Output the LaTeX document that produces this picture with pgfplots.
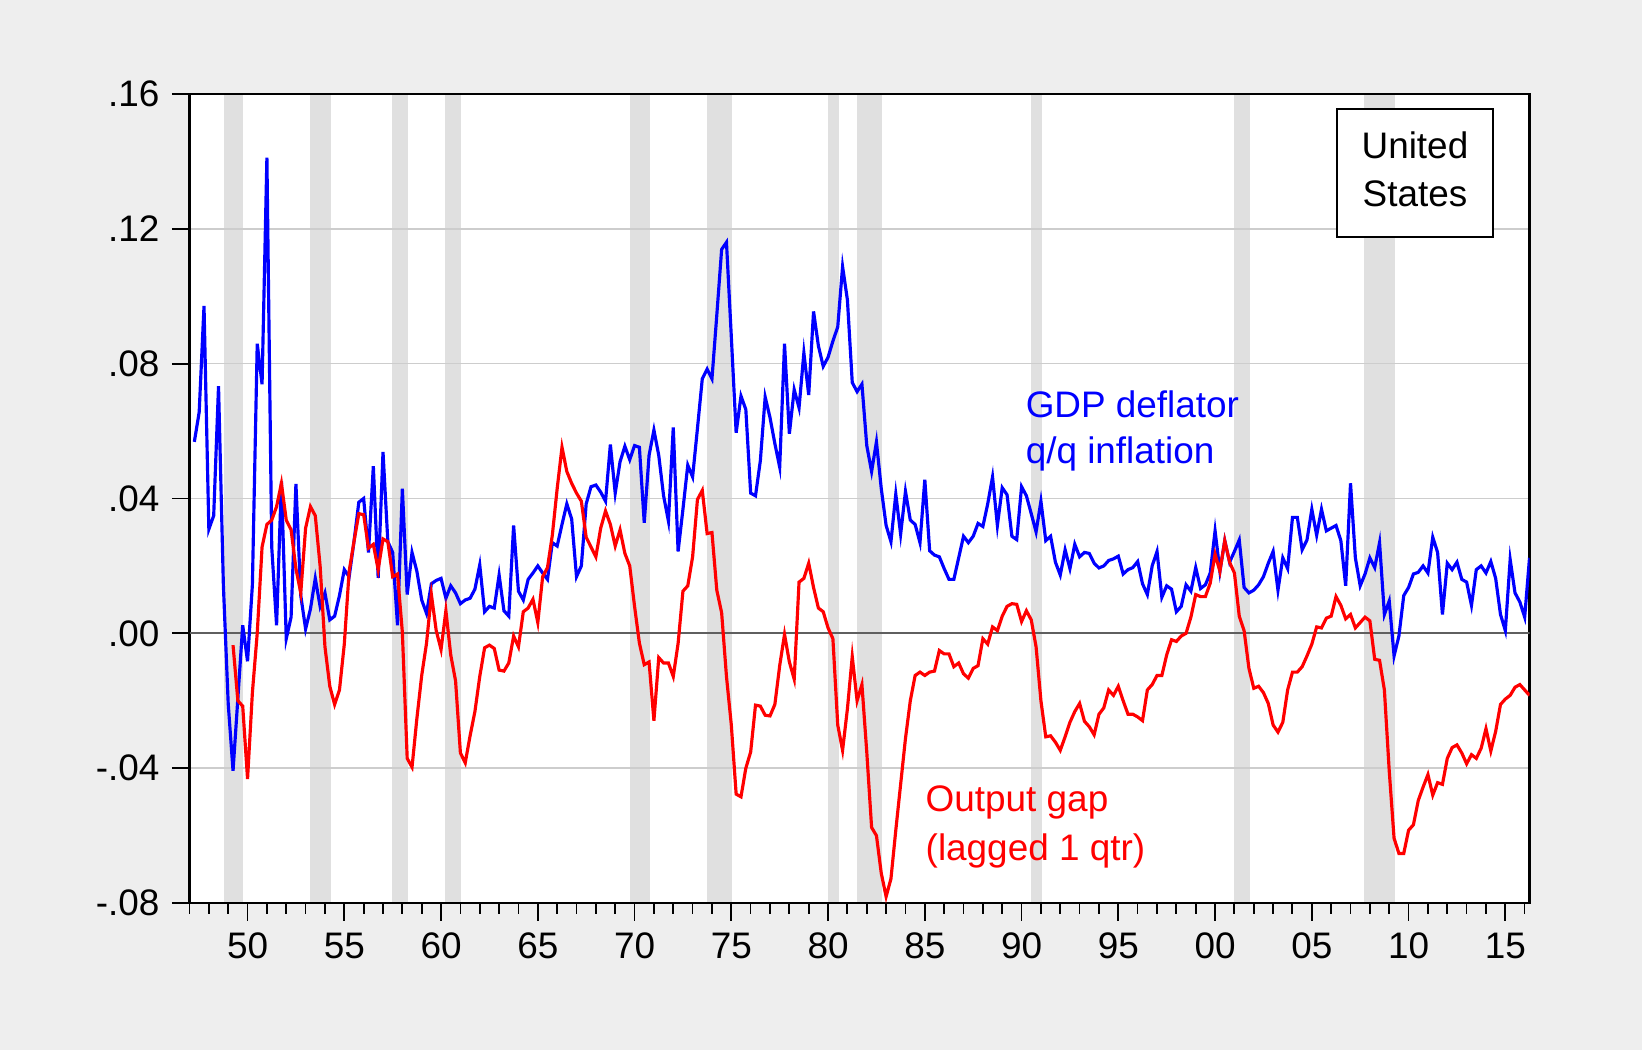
\documentclass[border=0pt]{standalone}
\usepackage{pgfplots}
\usepackage{pgfplotstable}
\usepackage{fontspec}
\setmainfont{Liberation Sans}
\pgfplotsset{compat=1.18}

\definecolor{bggray}{RGB}{238,238,238}
\definecolor{recgray}{RGB}{224,224,224}
\definecolor{gridgray}{RGB}{205,205,205}
\definecolor{zerogray}{RGB}{95,95,95}
\pagecolor{bggray}

% GDP deflator, q/q inflation
\pgfplotstableread{
year infl
1947.25 0.0568
1947.50 0.0656
1947.75 0.0971
1948.00 0.0309
1948.25 0.0349
1948.50 0.0733
1948.75 0.0144
1949.00 -0.0208
1949.25 -0.0408
1949.50 -0.0192
1949.75 0.0024
1950.00 -0.0083
1950.25 0.0144
1950.50 0.0859
1950.75 0.0739
1951.00 0.1411
1951.25 0.0256
1951.50 0.0024
1951.75 0.0451
1952.00 -0.0016
1952.25 0.0048
1952.50 0.0443
1952.75 0.0112
1953.00 0.0013
1953.25 0.0072
1953.50 0.0163
1953.75 0.0080
1954.00 0.0120
1954.25 0.0040
1954.50 0.0051
1954.75 0.0112
1955.00 0.0189
1955.25 0.0168
1955.50 0.0272
1955.75 0.0389
1956.00 0.0400
1956.25 0.0240
1956.50 0.0496
1956.75 0.0165
1957.00 0.0538
1957.25 0.0272
1957.50 0.0240
1957.75 0.0024
1958.00 0.0429
1958.25 0.0115
1958.50 0.0240
1958.75 0.0184
1959.00 0.0099
1959.25 0.0059
1959.50 0.0147
1959.75 0.0157
1960.00 0.0163
1960.25 0.0104
1960.50 0.0141
1960.75 0.0120
1961.00 0.0088
1961.25 0.0099
1961.50 0.0104
1961.75 0.0131
1962.00 0.0203
1962.25 0.0064
1962.50 0.0080
1962.75 0.0075
1963.00 0.0173
1963.25 0.0067
1963.50 0.0051
1963.75 0.0320
1964.00 0.0125
1964.25 0.0099
1964.50 0.0160
1964.75 0.0179
1965.00 0.0200
1965.25 0.0179
1965.50 0.0160
1965.75 0.0269
1966.00 0.0259
1966.25 0.0323
1966.50 0.0384
1966.75 0.0339
1967.00 0.0168
1967.25 0.0200
1967.50 0.0384
1967.75 0.0435
1968.00 0.0440
1968.25 0.0419
1968.50 0.0392
1968.75 0.0560
1969.00 0.0416
1969.25 0.0509
1969.50 0.0555
1969.75 0.0515
1970.00 0.0557
1970.25 0.0552
1970.50 0.0328
1970.75 0.0528
1971.00 0.0603
1971.25 0.0528
1971.50 0.0408
1971.75 0.0333
1972.00 0.0611
1972.25 0.0243
1972.50 0.0368
1972.75 0.0499
1973.00 0.0464
1973.25 0.0608
1973.50 0.0755
1973.75 0.0784
1974.00 0.0755
1974.25 0.0944
1974.50 0.1139
1974.75 0.1160
1975.00 0.0880
1975.25 0.0595
1975.50 0.0704
1975.75 0.0664
1976.00 0.0416
1976.25 0.0408
1976.50 0.0512
1976.75 0.0701
1977.00 0.0640
1977.25 0.0563
1977.50 0.0493
1977.75 0.0859
1978.00 0.0592
1978.25 0.0723
1978.50 0.0669
1978.75 0.0832
1979.00 0.0707
1979.25 0.0955
1979.50 0.0853
1979.75 0.0792
1980.00 0.0819
1980.25 0.0867
1980.50 0.0909
1980.75 0.1088
1981.00 0.0989
1981.25 0.0744
1981.50 0.0717
1981.75 0.0739
1982.00 0.0557
1982.25 0.0480
1982.50 0.0568
1982.75 0.0429
1983.00 0.0320
1983.25 0.0272
1983.50 0.0413
1983.75 0.0294
1984.00 0.0421
1984.25 0.0336
1984.50 0.0323
1984.75 0.0269
1985.00 0.0456
1985.25 0.0245
1985.50 0.0232
1985.75 0.0227
1986.00 0.0192
1986.25 0.0160
1986.50 0.0160
1986.75 0.0224
1987.00 0.0288
1987.25 0.0269
1987.50 0.0288
1987.75 0.0326
1988.00 0.0317
1988.25 0.0384
1988.50 0.0464
1988.75 0.0320
1989.00 0.0432
1989.25 0.0411
1989.50 0.0288
1989.75 0.0278
1990.00 0.0435
1990.25 0.0408
1990.50 0.0355
1990.75 0.0301
1991.00 0.0392
1991.25 0.0275
1991.50 0.0288
1991.75 0.0211
1992.00 0.0173
1992.25 0.0248
1992.50 0.0192
1992.75 0.0264
1993.00 0.0227
1993.25 0.0240
1993.50 0.0237
1993.75 0.0208
1994.00 0.0194
1994.25 0.0200
1994.50 0.0216
1994.75 0.0221
1995.00 0.0229
1995.25 0.0176
1995.50 0.0189
1995.75 0.0195
1996.00 0.0213
1996.25 0.0147
1996.50 0.0115
1996.75 0.0200
1997.00 0.0243
1997.25 0.0107
1997.50 0.0141
1997.75 0.0131
1998.00 0.0064
1998.25 0.0080
1998.50 0.0144
1998.75 0.0125
1999.00 0.0195
1999.25 0.0133
1999.50 0.0144
1999.75 0.0179
2000.00 0.0304
2000.25 0.0184
2000.50 0.0275
2000.75 0.0211
2001.00 0.0243
2001.25 0.0277
2001.50 0.0136
2001.75 0.0120
2002.00 0.0128
2002.25 0.0144
2002.50 0.0168
2002.75 0.0208
2003.00 0.0243
2003.25 0.0128
2003.50 0.0224
2003.75 0.0192
2004.00 0.0344
2004.25 0.0344
2004.50 0.0248
2004.75 0.0277
2005.00 0.0368
2005.25 0.0291
2005.50 0.0368
2005.75 0.0304
2006.00 0.0312
2006.25 0.0320
2006.50 0.0275
2006.75 0.0141
2007.00 0.0445
2007.25 0.0224
2007.50 0.0141
2007.75 0.0176
2008.00 0.0224
2008.25 0.0195
2008.50 0.0269
2008.75 0.0056
2009.00 0.0096
2009.25 -0.0067
2009.50 -0.0008
2009.75 0.0112
2010.00 0.0136
2010.25 0.0176
2010.50 0.0181
2010.75 0.0200
2011.00 0.0179
2011.25 0.0285
2011.50 0.0240
2011.75 0.0056
2012.00 0.0208
2012.25 0.0189
2012.50 0.0211
2012.75 0.0160
2013.00 0.0152
2013.25 0.0083
2013.50 0.0189
2013.75 0.0200
2014.00 0.0179
2014.25 0.0213
2014.50 0.0163
2014.75 0.0056
2015.00 0.0008
2015.25 0.0219
2015.50 0.0120
2015.75 0.0093
2016.00 0.0048
2016.25 0.0224
}\gdpinfl

% output gap, lagged one quarter
\pgfplotstableread{
year gap
1949.25 -0.0035
1949.50 -0.0200
1949.75 -0.0216
1950.00 -0.0432
1950.25 -0.0176
1950.50 0.0000
1950.75 0.0256
1951.00 0.0323
1951.25 0.0336
1951.50 0.0376
1951.75 0.0445
1952.00 0.0336
1952.25 0.0307
1952.50 0.0192
1952.75 0.0120
1953.00 0.0312
1953.25 0.0376
1953.50 0.0349
1953.75 0.0200
1954.00 -0.0040
1954.25 -0.0157
1954.50 -0.0211
1954.75 -0.0168
1955.00 -0.0032
1955.25 0.0184
1955.50 0.0272
1955.75 0.0355
1956.00 0.0352
1956.25 0.0253
1956.50 0.0264
1956.75 0.0189
1957.00 0.0280
1957.25 0.0272
1957.50 0.0168
1957.75 0.0176
1958.00 0.0003
1958.25 -0.0371
1958.50 -0.0397
1958.75 -0.0253
1959.00 -0.0125
1959.25 -0.0029
1959.50 0.0115
1959.75 0.0008
1960.00 -0.0048
1960.25 0.0067
1960.50 -0.0064
1960.75 -0.0141
1961.00 -0.0355
1961.25 -0.0384
1961.50 -0.0304
1961.75 -0.0232
1962.00 -0.0128
1962.25 -0.0043
1962.50 -0.0035
1962.75 -0.0045
1963.00 -0.0109
1963.25 -0.0112
1963.50 -0.0088
1963.75 -0.0008
1964.00 -0.0040
1964.25 0.0064
1964.50 0.0075
1964.75 0.0101
1965.00 0.0032
1965.25 0.0168
1965.50 0.0195
1965.75 0.0291
1966.00 0.0429
1966.25 0.0552
1966.50 0.0480
1966.75 0.0445
1967.00 0.0416
1967.25 0.0392
1967.50 0.0285
1967.75 0.0256
1968.00 0.0227
1968.25 0.0312
1968.50 0.0363
1968.75 0.0323
1969.00 0.0259
1969.25 0.0307
1969.50 0.0237
1969.75 0.0200
1970.00 0.0080
1970.25 -0.0029
1970.50 -0.0093
1970.75 -0.0085
1971.00 -0.0259
1971.25 -0.0072
1971.50 -0.0088
1971.75 -0.0088
1972.00 -0.0128
1972.25 -0.0030
1972.50 0.0125
1972.75 0.0141
1973.00 0.0227
1973.25 0.0397
1973.50 0.0424
1973.75 0.0296
1974.00 0.0299
1974.25 0.0128
1974.50 0.0061
1974.75 -0.0128
1975.00 -0.0272
1975.25 -0.0477
1975.50 -0.0485
1975.75 -0.0400
1976.00 -0.0352
1976.25 -0.0213
1976.50 -0.0216
1976.75 -0.0243
1977.00 -0.0245
1977.25 -0.0211
1977.50 -0.0096
1977.75 -0.0003
1978.00 -0.0085
1978.25 -0.0136
1978.50 0.0152
1978.75 0.0163
1979.00 0.0208
1979.25 0.0136
1979.50 0.0075
1979.75 0.0064
1980.00 0.0016
1980.25 -0.0016
1980.50 -0.0272
1980.75 -0.0347
1981.00 -0.0224
1981.25 -0.0069
1981.50 -0.0200
1981.75 -0.0152
1982.00 -0.0352
1982.25 -0.0576
1982.50 -0.0600
1982.75 -0.0712
1983.00 -0.0781
1983.25 -0.0728
1983.50 -0.0584
1983.75 -0.0448
1984.00 -0.0312
1984.25 -0.0200
1984.50 -0.0125
1984.75 -0.0115
1985.00 -0.0125
1985.25 -0.0115
1985.50 -0.0112
1985.75 -0.0051
1986.00 -0.0061
1986.25 -0.0061
1986.50 -0.0099
1986.75 -0.0088
1987.00 -0.0120
1987.25 -0.0133
1987.50 -0.0104
1987.75 -0.0096
1988.00 -0.0016
1988.25 -0.0032
1988.50 0.0019
1988.75 0.0008
1989.00 0.0051
1989.25 0.0080
1989.50 0.0088
1989.75 0.0086
1990.00 0.0035
1990.25 0.0067
1990.50 0.0040
1990.75 -0.0040
1991.00 -0.0200
1991.25 -0.0307
1991.50 -0.0304
1991.75 -0.0323
1992.00 -0.0347
1992.25 -0.0307
1992.50 -0.0264
1992.75 -0.0232
1993.00 -0.0208
1993.25 -0.0261
1993.50 -0.0277
1993.75 -0.0301
1994.00 -0.0240
1994.25 -0.0221
1994.50 -0.0168
1994.75 -0.0184
1995.00 -0.0157
1995.25 -0.0200
1995.50 -0.0240
1995.75 -0.0240
1996.00 -0.0248
1996.25 -0.0259
1996.50 -0.0168
1996.75 -0.0152
1997.00 -0.0125
1997.25 -0.0125
1997.50 -0.0064
1997.75 -0.0019
1998.00 -0.0024
1998.25 -0.0008
1998.50 0.0000
1998.75 0.0048
1999.00 0.0115
1999.25 0.0109
1999.50 0.0109
1999.75 0.0149
2000.00 0.0235
2000.25 0.0184
2000.50 0.0275
2000.75 0.0211
2001.00 0.0179
2001.25 0.0051
2001.50 0.0008
2001.75 -0.0104
2002.00 -0.0163
2002.25 -0.0157
2002.50 -0.0176
2002.75 -0.0208
2003.00 -0.0272
2003.25 -0.0293
2003.50 -0.0264
2003.75 -0.0168
2004.00 -0.0115
2004.25 -0.0115
2004.50 -0.0099
2004.75 -0.0067
2005.00 -0.0032
2005.25 0.0019
2005.50 0.0016
2005.75 0.0045
2006.00 0.0051
2006.25 0.0109
2006.50 0.0083
2006.75 0.0043
2007.00 0.0056
2007.25 0.0016
2007.50 0.0032
2007.75 0.0048
2008.00 0.0037
2008.25 -0.0077
2008.50 -0.0080
2008.75 -0.0168
2009.00 -0.0408
2009.25 -0.0608
2009.50 -0.0653
2009.75 -0.0653
2010.00 -0.0584
2010.25 -0.0568
2010.50 -0.0496
2010.75 -0.0456
2011.00 -0.0419
2011.25 -0.0480
2011.50 -0.0443
2011.75 -0.0448
2012.00 -0.0371
2012.25 -0.0339
2012.50 -0.0331
2012.75 -0.0355
2013.00 -0.0387
2013.25 -0.0360
2013.50 -0.0371
2013.75 -0.0341
2014.00 -0.0283
2014.25 -0.0349
2014.50 -0.0291
2014.75 -0.0211
2015.00 -0.0195
2015.25 -0.0184
2015.50 -0.0160
2015.75 -0.0152
2016.00 -0.0168
2016.25 -0.0184
}\outgap

\begin{document}
\begin{tikzpicture}[font=\fontsize{10.5}{12.6}\selectfont]
\begin{axis}[
    at={(1.895cm,1.47cm)}, anchor=south west,
    scale only axis,
    width=13.40cm, height=8.09cm,
    xmin=1947, xmax=2016.25,
    ymin=-0.08, ymax=0.16,
    set layers,
    axis background/.style={fill=white},
    axis line style={line width=0.7pt},
    xtick={1950,1955,...,2015},
    xticklabels={50,55,60,65,70,75,80,85,90,95,00,05,10,15},
    minor xtick={1947,...,2016},
    ytick={-0.08,-0.04,0,0.04,0.08,0.12,0.16},
    yticklabels={-.08,-.04,.00,.04,.08,.12,.16},
    ymajorgrids,
    grid style={gridgray, line width=0.4pt},
    tick align=outside,
    xtick pos=bottom, ytick pos=left,
    major tick length=5pt, minor tick length=3pt,
    tick style={black, line width=0.5pt},
    ticklabel style={font=\fontsize{10.5}{12.6}\selectfont},
    scaled y ticks=false,
]
% recession shading
\addplot[on layer=axis background, draw=none, fill=recgray] coordinates {(1948.76,-0.08) (1948.76,0.16) (1949.79,0.16) (1949.79,-0.08)} -- cycle;
\addplot[on layer=axis background, draw=none, fill=recgray] coordinates {(1953.24,-0.08) (1953.24,0.16) (1954.29,0.16) (1954.29,-0.08)} -- cycle;
\addplot[on layer=axis background, draw=none, fill=recgray] coordinates {(1957.48,-0.08) (1957.48,0.16) (1958.29,0.16) (1958.29,-0.08)} -- cycle;
\addplot[on layer=axis background, draw=none, fill=recgray] coordinates {(1960.22,-0.08) (1960.22,0.16) (1961.05,0.16) (1961.05,-0.08)} -- cycle;
\addplot[on layer=axis background, draw=none, fill=recgray] coordinates {(1969.74,-0.08) (1969.74,0.16) (1970.78,0.16) (1970.78,-0.08)} -- cycle;
\addplot[on layer=axis background, draw=none, fill=recgray] coordinates {(1973.72,-0.08) (1973.72,0.16) (1975.03,0.16) (1975.03,-0.08)} -- cycle;
\addplot[on layer=axis background, draw=none, fill=recgray] coordinates {(1979.98,-0.08) (1979.98,0.16) (1980.55,0.16) (1980.55,-0.08)} -- cycle;
\addplot[on layer=axis background, draw=none, fill=recgray] coordinates {(1981.48,-0.08) (1981.48,0.16) (1982.78,0.16) (1982.78,-0.08)} -- cycle;
\addplot[on layer=axis background, draw=none, fill=recgray] coordinates {(1990.48,-0.08) (1990.48,0.16) (1991.05,0.16) (1991.05,-0.08)} -- cycle;
\addplot[on layer=axis background, draw=none, fill=recgray] coordinates {(2000.98,-0.08) (2000.98,0.16) (2001.81,0.16) (2001.81,-0.08)} -- cycle;
\addplot[on layer=axis background, draw=none, fill=recgray] coordinates {(2007.72,-0.08) (2007.72,0.16) (2009.31,0.16) (2009.31,-0.08)} -- cycle;

\addplot[zerogray, line width=0.6pt] coordinates {(1947,0) (2016.25,0)};
\addplot[blue, line width=0.9pt] table[x=year, y=infl] {\gdpinfl};
\addplot[red, line width=0.9pt] table[x=year, y=gap] {\outgap};

\node[blue, anchor=base west, inner sep=0pt] at (axis cs:1990.18,0.0639) {GDP deflator};
\node[blue, anchor=base west, inner sep=0pt] at (axis cs:1990.18,0.0503) {q/q inflation};
\node[red, anchor=base west, inner sep=0pt] at (axis cs:1985.01,-0.0530) {Output gap};
\node[red, anchor=base west, inner sep=0pt] at (axis cs:1985.01,-0.0673) {(lagged 1 qtr)};

\draw[black, line width=0.6pt, fill=white] (axis cs:2006.32,0.1177) rectangle (axis cs:2014.35,0.1555);
\node[anchor=base, inner sep=0pt] at (axis cs:2010.33,0.1409) {United};
\node[anchor=base, inner sep=0pt] at (axis cs:2010.33,0.1266) {States};
\end{axis}
\pgfresetboundingbox
\path[use as bounding box] (0,0) rectangle (16.42cm,10.5cm);
\end{tikzpicture}
\end{document}
